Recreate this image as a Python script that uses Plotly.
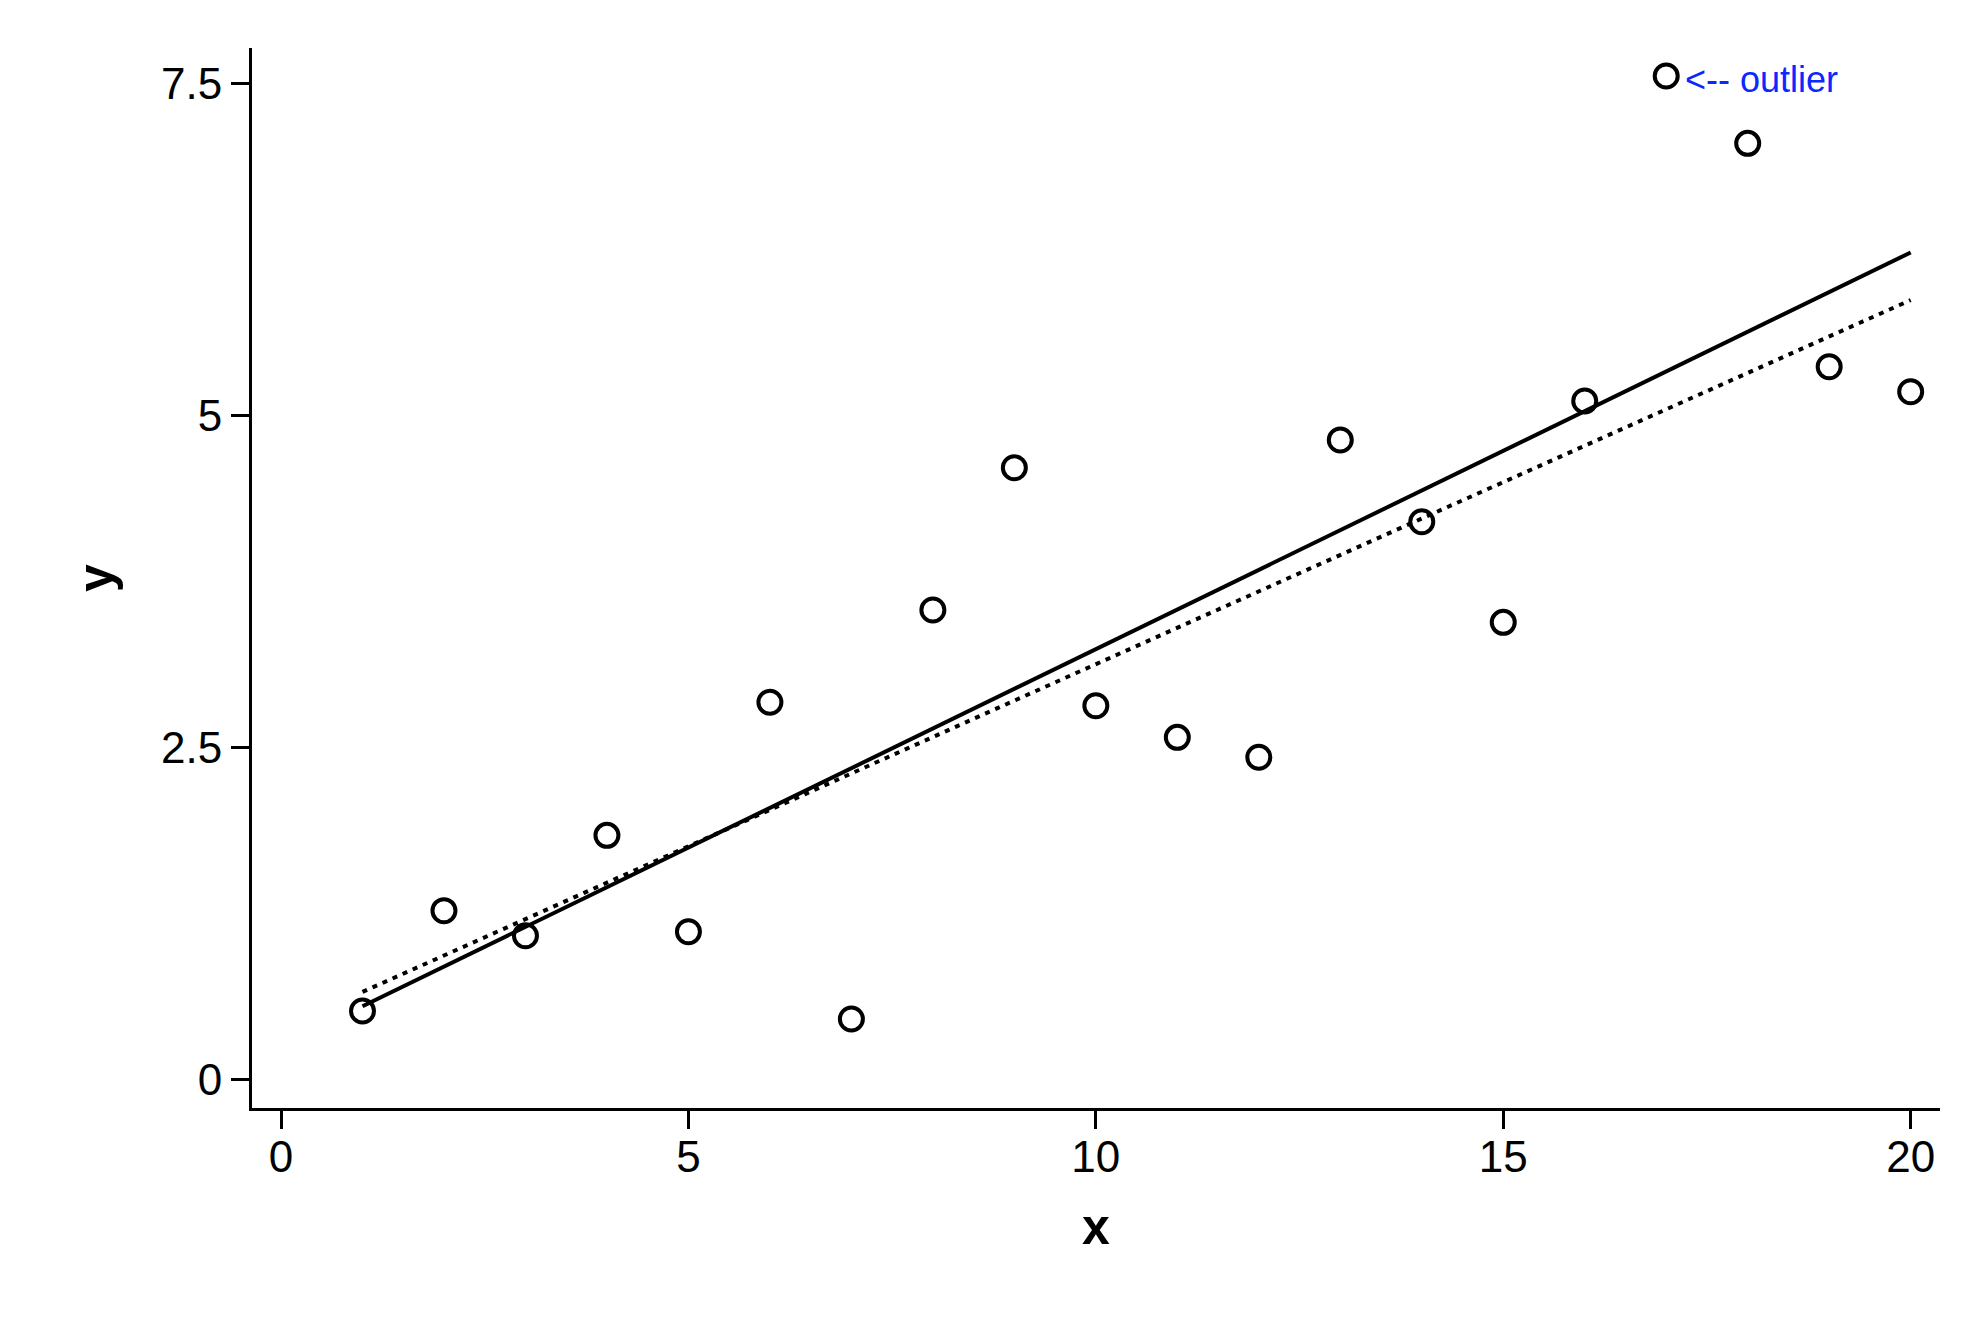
import numpy as np
import plotly.graph_objects as go

# ---- data ----
x_vals = list(range(1, 21))
y_vals = [0.514, 1.270, 1.081, 1.837, 1.111, 2.839, 0.454, 3.534, 4.605, 2.813,
          2.575, 2.425, 4.814, 4.199, 3.441, 5.108, 7.555, 7.048, 5.366, 5.178]
outlier_x = 17
outlier_label = "&lt;-- outlier"
x_ticks = [0, 5, 10, 15, 20]
x_ticklabels = ["0", "5", "10", "15", "20"]
y_ticks = [0, 2.5, 5, 7.5]
y_ticklabels = ["0", "2.5", "5", "7.5"]

xa = np.array(x_vals, dtype=float)
ya = np.array(y_vals, dtype=float)

# linear fit with all points (solid) and without the outlier (dotted)
b_all = np.polyfit(xa, ya, 1)
mask = xa != outlier_x
b_wo = np.polyfit(xa[mask], ya[mask], 1)
fx = np.array([xa.min(), xa.max()])

FONT = "Liberation Sans, Arial, Helvetica, sans-serif"

fig = go.Figure()
fig.add_trace(go.Scatter(
    x=x_vals, y=y_vals, mode="markers",
    marker=dict(symbol="circle-open", size=23, color="black", line=dict(width=4, color="black")),
    showlegend=False, hoverinfo="skip"))
fig.add_trace(go.Scatter(
    x=fx, y=np.polyval(b_all, fx), mode="lines",
    line=dict(color="black", width=4), showlegend=False, hoverinfo="skip"))
fig.add_trace(go.Scatter(
    x=fx, y=np.polyval(b_wo, fx), mode="lines",
    line=dict(color="black", width=4, dash="5px,6px"), showlegend=False, hoverinfo="skip"))

fig.add_annotation(
    x=17.2, y=7.5, xref="x", yref="y", text=outlier_label, showarrow=False,
    xanchor="left", yanchor="middle", yshift=4,
    font=dict(family=FONT, size=36, color="#0a28ff"))

# page body adds an 8px offset, so the figure is slightly smaller than the window
fig.update_layout(
    width=1980, height=1318,
    margin=dict(l=244, r=48, t=40, b=218, pad=0),
    paper_bgcolor="white", plot_bgcolor="white",
    font=dict(family=FONT, color="black"),
    xaxis=dict(
        range=[-0.356, 20.36], tickmode="array", tickvals=x_ticks, ticktext=x_ticklabels,
        showgrid=False, zeroline=False, showline=True, linecolor="black", linewidth=3,
        ticks="outside", ticklen=18, tickwidth=3, tickcolor="black",
        ticklabelstandoff=-10,
        tickfont=dict(family=FONT, size=44, color="black"),
        title=dict(text="<b>x</b>", font=dict(family=FONT, size=50, color="black"), standoff=30),
    ),
    yaxis=dict(
        range=[-0.216, 7.766], tickmode="array", tickvals=y_ticks, ticktext=y_ticklabels,
        showgrid=False, zeroline=False, showline=True, linecolor="black", linewidth=3,
        ticks="outside", ticklen=18, tickwidth=3, tickcolor="black",
        tickfont=dict(family=FONT, size=44, color="black"),
        title=dict(text="<b>y</b>", font=dict(family=FONT, size=50, color="black"), standoff=32),
    ),
)

fig.write_html("out.html")
